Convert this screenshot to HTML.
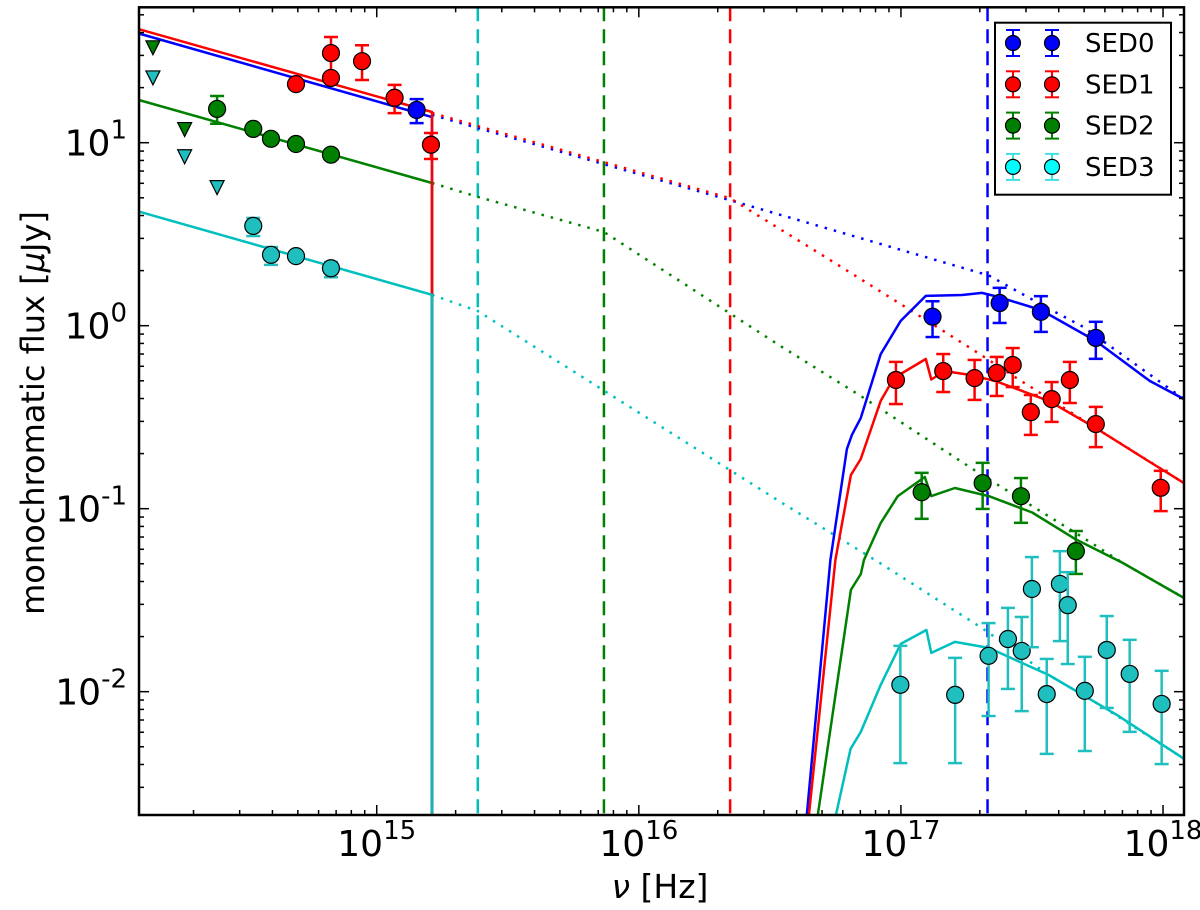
<!DOCTYPE html>
<html><head><meta charset="utf-8"><style>
body{margin:0;background:#fff;}
svg{display:block;font-family:"DejaVu Sans","Liberation Sans",sans-serif;}
</style></head><body>
<svg id="chart" width="1200" height="910" xmlns="http://www.w3.org/2000/svg">
<g id="plot"></g>
<g id="axes"></g>
<text x="660" y="898" font-size="33" text-anchor="middle"><tspan font-style="italic">ν</tspan> [Hz]</text>
<text transform="translate(44,413) rotate(-90)" font-size="32" text-anchor="middle">monochromatic flux [<tspan font-style="italic">μ</tspan>Jy]</text>
<g id="legend"></g>
</svg>
<script>
// ---- data ----
const sed0Nu=[1.42e15,1.32e17,2.38e17,3.42e17,5.54e17];
const sed0F=[15.1,1.12,1.33,1.19,0.857];
const sed0Lo=[12.8,0.867,1.035,0.925,0.659];
const sed0Hi=[17.3,1.36,1.61,1.45,1.05];
const sed1Nu=[4.92e14,6.69e14,6.69e14,8.79e14,1.17e15,1.61e15,9.57e16,1.45e17,1.91e17,2.32e17,2.67e17,3.13e17,3.76e17,4.41e17,5.54e17,9.80e17];
const sed1F=[20.9,30.9,22.6,27.9,17.6,9.75,0.505,0.565,0.517,0.552,0.610,0.337,0.397,0.505,0.290,0.130];
const sed1Lo=[20.9,23.5,22.6,22.0,14.5,8.15,0.373,0.434,0.393,0.413,0.462,0.253,0.298,0.378,0.217,0.097];
const sed1Hi=[20.9,37.8,22.6,34.1,20.7,11.3,0.634,0.70,0.65,0.675,0.755,0.418,0.492,0.634,0.360,0.161];
const sed2Nu=[2.46e14,3.38e14,3.95e14,4.92e14,6.69e14,1.20e17,2.05e17,2.87e17,4.65e17];
const sed2F=[15.3,11.9,10.5,9.84,8.6,0.123,0.138,0.117,0.0586];
const sed2Lo=[12.7,11.9,10.5,9.84,8.6,0.088,0.0997,0.0837,0.044];
const sed2Hi=[18.0,11.9,10.5,9.84,8.6,0.157,0.178,0.147,0.0755];
const sed3Nu=[3.38e14,3.95e14,4.92e14,6.69e14,9.95e16,1.61e17,2.16e17,2.56e17,2.89e17,3.16e17,3.60e17,4.04e17,4.33e17,5.03e17,6.10e17,7.46e17,9.88e17];
const sed3F=[3.51,2.44,2.40,2.06,0.0109,0.0096,0.0157,0.0194,0.0167,0.0364,0.0097,0.0388,0.0297,0.0101,0.0169,0.0125,0.00857];
const sed3Lo=[3.09,2.15,2.40,1.84,0.00407,0.00407,0.00736,0.01035,0.00783,0.0175,0.00457,0.0189,0.01416,0.00474,0.00815,0.00603,0.00402];
const sed3Hi=[3.88,2.69,2.40,2.23,0.0178,0.0153,0.0237,0.0287,0.0256,0.0544,0.0151,0.0586,0.045,0.0155,0.0259,0.0192,0.0130];
const ul2Nu=[1.40e14,1.85e14];
const ul2F=[33.0,11.8];
const ul3Nu=[1.40e14,1.85e14,2.46e14];
const ul3F=[22.6,8.38,5.68];
const edgeNu=[2.43e15,7.36e15,2.23e16,2.14e17];
// model curves, log10(nu) / log10(flux)
const uvLogNu=[14.094,15.211,15.211];
const uv0LogF=[1.596,1.140,-2.674];
const uv1LogF=[1.620,1.168,-2.674];
const uv2LogF=[1.233,0.780,-2.674];
const uv3LogF=[0.623,0.169,-2.674];
const x0LogNu=[16.641,16.731,16.794,16.813,16.847,16.923,16.999,17.095,17.233,17.309,17.373,17.534,17.743,17.950,18.080];
const x0LogF=[-2.674,-1.280,-0.674,-0.597,-0.504,-0.155,0.026,0.163,0.168,0.179,0.157,0.086,-0.083,-0.302,-0.401];
const x1LogNu=[16.649,16.750,16.809,16.847,16.923,16.973,17.095,17.116,17.167,17.257,17.360,17.564,17.743,17.950,18.080];
const x1LogF=[-2.674,-1.280,-0.816,-0.728,-0.411,-0.286,-0.182,-0.294,-0.248,-0.267,-0.302,-0.411,-0.559,-0.745,-0.860];
const x2LogNu=[16.683,16.809,16.847,16.859,16.923,16.988,17.091,17.116,17.206,17.335,17.501,17.667,17.847,18.080];
const x2LogF=[-2.674,-1.444,-1.357,-1.280,-1.078,-0.931,-0.827,-0.931,-0.887,-0.931,-1.021,-1.168,-1.297,-1.488];
const x3LogNu=[16.752,16.808,16.847,16.923,16.999,17.097,17.116,17.206,17.335,17.564,17.824,18.080];
const x3LogF=[-2.674,-2.312,-2.220,-1.963,-1.739,-1.663,-1.788,-1.728,-1.761,-1.909,-2.127,-2.367];
const i0LogNu=[15.211,16.348,17.335,17.564,17.694,18.080];
const i0LogF=[1.152,0.686,0.275,0.093,-0.005,-0.401];
const i1LogNu=[15.211,16.348,16.731,16.999,17.282,17.439,17.743,18.080];
const i1LogF=[1.163,0.697,0.358,0.118,-0.138,-0.284,-0.559,-0.860];
const i2LogNu=[15.211,15.386,15.867,16.540,16.847,17.309,17.667,17.847,18.080];
const i2LogF=[0.780,0.704,0.512,-0.111,-0.384,-0.816,-1.133,-1.297,-1.488];
const i3LogNu=[15.211,15.386,16.540,16.913,17.309,17.564,17.759,18.080];
const i3LogF=[0.169,0.080,-0.963,-1.291,-1.652,-1.909,-2.073,-2.367];
const xTickExp=[15,16,17,18];
const yTickExp=[1,0,-1,-2];
const legendLabels=['SED0','SED1','SED2','SED3'];

// ---- axes ----
const L=139,R=1184,T=7.3,B=815;
const XMIN=14.093,XMAX=18.080,YMIN=-2.674,YMAX=1.74;
const lx=v=>L+(v-XMIN)/(XMAX-XMIN)*(R-L);
const ly=v=>B-(v-YMIN)/(YMAX-YMIN)*(B-T);
const X=nu=>lx(Math.log10(nu));
const Y=f=>ly(Math.log10(f));
const NS='http://www.w3.org/2000/svg';
const plot=document.getElementById('plot'),axes=document.getElementById('axes'),leg=document.getElementById('legend');
function mk(tag,attrs,parent){const e=document.createElementNS(NS,tag);for(const k in attrs)e.setAttribute(k,attrs[k]);parent.appendChild(e);return e;}
const COL=['#0000ff','#ff0000','#008000','#00bfbf'];

const clip=mk('clipPath',{id:'cp'},document.getElementById('chart'));
mk('rect',{x:L,y:T,width:R-L,height:B-T},clip);
plot.setAttribute('clip-path','url(#cp)');

function curve(lnu,lf,color,dash,name){
  const d=lnu.map((v,i)=>(i?'L':'M')+lx(v).toFixed(1)+' '+ly(lf[i]).toFixed(1)).join(' ');
  const p=mk('path',{d:d,fill:'none',stroke:color,'stroke-width':2.5,'stroke-dasharray':dash||'none','stroke-linejoin':'round'},plot);
  
  
}
const edgeCol=['#00bfbf','#008000','#ff0000','#0000ff'];
edgeNu.forEach((nu,i)=>{
  const l=mk('line',{x1:X(nu),x2:X(nu),y1:T,y2:B,stroke:edgeCol[i],'stroke-width':2.5,'stroke-dasharray':'14 8'},plot);
  
  
});
const intr=[[i0LogNu,i0LogF],[i1LogNu,i1LogF],[i2LogNu,i2LogF],[i3LogNu,i3LogF]];
intr.forEach((c,i)=>curve(c[0],c[1],COL[i],'2.5 7','intrinsic-model'));
const uv=[uv0LogF,uv1LogF,uv2LogF,uv3LogF];
const xr=[[x0LogNu,x0LogF],[x1LogNu,x1LogF],[x2LogNu,x2LogF],[x3LogNu,x3LogF]];
[0,2,1,3].forEach(i=>{curve(uvLogNu,uv[i],COL[i],null,'uv-model');curve(xr[i][0],xr[i][1],COL[i],null,'xray-model');});
function pts(nu,f,lo,hi,color){
  nu.forEach((n,i)=>{
    const x=X(n);
    if(hi[i]>lo[i]){
      const g=mk('g',{stroke:color,'stroke-width':2.5},plot);
      
      
      mk('line',{x1:x,x2:x,y1:Y(lo[i]),y2:Y(hi[i])},g);
      mk('line',{x1:x-7,x2:x+7,y1:Y(lo[i]),y2:Y(lo[i])},g);
      mk('line',{x1:x-7,x2:x+7,y1:Y(hi[i]),y2:Y(hi[i])},g);
    }
    const c=mk('circle',{cx:x,cy:Y(f[i]),r:8.5,fill:color,stroke:'#000','stroke-width':1.2},plot);
    
    
  });
}
function tri(nu,f,color){
  nu.forEach((n,i)=>{const x=X(n),y=Y(f[i]);
    const t=mk('polygon',{points:`${x-7},${y-7} ${x+7},${y-7} ${x},${y+7}`,fill:color,stroke:'#000','stroke-width':1.2},plot);
    
    });
}
pts(sed0Nu,sed0F,sed0Lo,sed0Hi,COL[0]);
pts(sed1Nu,sed1F,sed1Lo,sed1Hi,COL[1]);
pts(sed2Nu,sed2F,sed2Lo,sed2Hi,COL[2]);
pts(sed3Nu,sed3F,sed3Lo,sed3Hi,'#20bfbf');
tri(ul3Nu,ul3F,'#20bfbf');
tri(ul2Nu,ul2F,COL[2]);

mk('rect',{x:L,y:T,width:R-L,height:B-T,fill:'none',stroke:'#000','stroke-width':2.5},axes);
for(let e=14;e<=18;e++)for(let m=1;m<10;m++){
  const v=e+Math.log10(m);if(v<XMIN||v>XMAX)continue;const x=lx(v),len=m==1?10:5;
  mk('line',{x1:x,x2:x,y1:B,y2:B-len,stroke:'#000','stroke-width':1.5},axes);
  mk('line',{x1:x,x2:x,y1:T,y2:T+len,stroke:'#000','stroke-width':1.5},axes);
}
for(let e=-3;e<=1;e++)for(let m=1;m<10;m++){
  const v=e+Math.log10(m);if(v<YMIN||v>YMAX)continue;const y=ly(v),len=m==1?10:5;
  mk('line',{x1:L,x2:L+len,y1:y,y2:y,stroke:'#000','stroke-width':1.5},axes);
  mk('line',{x1:R,x2:R-len,y1:y,y2:y,stroke:'#000','stroke-width':1.5},axes);
}
xTickExp.forEach(e=>{
  const t=mk('text',{x:lx(e),y:856,'font-size':36,'text-anchor':'middle'},axes);
  
  
  t.innerHTML='10<tspan font-size="26" dy="-17">'+e+'</tspan>';
});
yTickExp.forEach(e=>{
  const t=mk('text',{x:127,y:ly(e)+13,'font-size':36,'text-anchor':'end'},axes);
  
  
  t.innerHTML='10<tspan font-size="26" dy="-17">'+e+'</tspan>';
});
const lb=mk('rect',{x:995,y:22.7,width:176,height:172,fill:'#fff',stroke:'#000','stroke-width':2},leg);


const legCol=['#0000ff','#ff0000','#008000','#00ffff'];
const legErr=['#0000ff','#ff0000','#008000','#40e0e0'];
legendLabels.forEach((s,i)=>{
  const y=43+i*41.3;
  const g=mk('g',{},leg);
  
  
  [1013,1052].forEach(x=>{
    mk('line',{x1:x,x2:x,y1:y-13,y2:y+13,stroke:legErr[i],'stroke-width':2},g);
    mk('line',{x1:x-7,x2:x+7,y1:y-13,y2:y-13,stroke:legErr[i],'stroke-width':2},g);
    mk('line',{x1:x-7,x2:x+7,y1:y+13,y2:y+13,stroke:legErr[i],'stroke-width':2},g);
    mk('circle',{cx:x,cy:y,r:7.5,fill:legCol[i],stroke:'#000','stroke-width':1.2},g);
  });
  const t=mk('text',{x:1085,y:y+9,'font-size':26},g);
  t.textContent=s;
});
</script>
</body></html>
